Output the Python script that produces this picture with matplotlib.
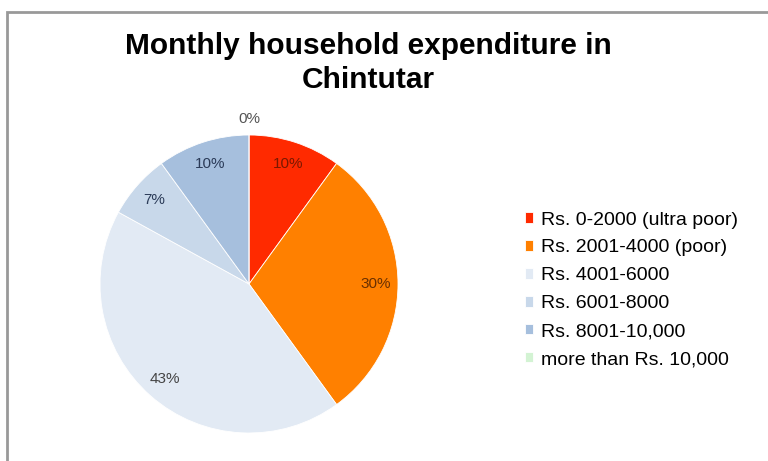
import matplotlib.pyplot as plt
from matplotlib.patches import Rectangle

plt.rcParams['font.family'] = ['Liberation Sans', 'DejaVu Sans']

# data
categories = ['Rs. 0-2000 (ultra poor)', 'Rs. 2001-4000 (poor)', 'Rs. 4001-6000',
              'Rs. 6001-8000', 'Rs. 8001-10,000', 'more than Rs. 10,000']
shares = [10, 30, 43, 7, 10, 0]
colors = ['#FF2A00', '#FF8000', '#E2EAF4', '#C8D8EA', '#A6BFDD', '#D3F3D3']
label_colors = ['#7A1800', '#6A3000', '#444444', '#2B3B58', '#2B3B58', '#555555']

fig = plt.figure(figsize=(7.68, 4.61), dpi=100)

# frame around the chart (runs off the right and bottom edges)
fig.patches.append(Rectangle((7 / 768, -0.1), 1.0, 1.1 - 12 / 461,
                             transform=fig.transFigure, fill=False,
                             edgecolor='#999999', linewidth=2))

fig.text(368 / 768, 1 - 63 / 461, 'Monthly household expenditure in\nChintutar',
         ha='center', va='center', fontsize=21.5, fontweight='bold',
         linespacing=1.25)

ax = fig.add_axes([100 / 768, 28 / 461, 298 / 768, 298 / 461])
wedges, texts, autotexts = ax.pie(
    shares, colors=colors, startangle=90, counterclock=False,
    autopct='%1.0f%%', pctdistance=0.85,
    wedgeprops=dict(edgecolor='white', linewidth=0.6),
    textprops=dict(fontsize=11))
for t, c in zip(autotexts, label_colors):
    t.set_color(c)
# the 0% label sits just above the pie
x, y = autotexts[-1].get_position()
autotexts[-1].set_position((x * 1.11 / 0.85, y * 1.11 / 0.85))
ax.set_xlim(-1, 1)
ax.set_ylim(-1, 1)
ax.set_aspect('equal')

fig.legend(wedges, categories, loc='upper left',
           bbox_to_anchor=(511 / 768, 1 - 198 / 461), frameon=False,
           fontsize=14, handlelength=0.45, handleheight=0.45,
           handletextpad=0.4, labelspacing=0.56, borderpad=0.2)

fig.savefig('out.png', dpi=100)
